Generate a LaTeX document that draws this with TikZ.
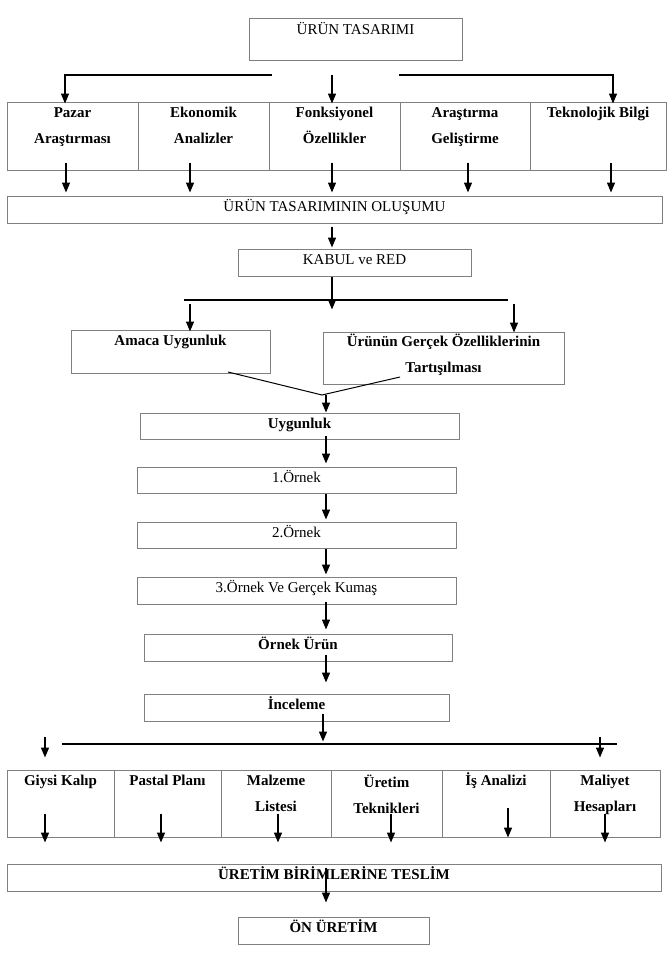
\documentclass[tikz,border=0pt]{standalone}
\usepackage{fontspec}
\setmainfont{Liberation Serif}
\usetikzlibrary{arrows.meta,fit}

\tikzset{
  box/.style={draw=black!50, line width=1pt, inner sep=0pt},
  lbl/.style={anchor=north, inner sep=0pt, align=center, yshift=2.5pt,
    font=\fontsize{15}{26}\selectfont, execute at begin node=\strut},
  lblb/.style={lbl, font=\fontsize{15}{26}\selectfont\bfseries},
  lbltwo/.style={lblb, yshift=-8pt},
  arr/.style={-{Triangle[length=10pt,width=8pt]}, line width=1.4pt},
  rule/.style={line width=1.4pt},
}

\begin{document}
\begin{tikzpicture}[x=1pt,y=-1pt]
		\useasboundingbox (0,0) rectangle (667,974);
		
		% boxes
		\node[box, fit={(249,19) (462,61)}] (urun) {};
		\node[box, fit={(7,102) (138,170)}] (pazar) {};
		\node[box, fit={(138,102) (269,170)}] (ekon) {};
		\node[box, fit={(269,102) (400,170)}] (fonk) {};
		\node[box, fit={(400,102) (530,170)}] (arge) {};
		\node[box, fit={(530,102) (666,170)}] (tekno) {};
		\node[box, fit={(7,196) (662,223)}] (olusum) {};
		\node[box, fit={(238,249) (471,276)}] (kabul) {};
		\node[box, fit={(71,330) (270,373)}] (amaca) {};
		\node[box, fit={(323,332) (564,384)}] (gercek) {};
		\node[box, fit={(140,413) (459,439)}] (uygun) {};
		\node[box, fit={(137,467) (456,493)}] (ornekA) {};
		\node[box, fit={(137,522) (456,548)}] (ornekB) {};
		\node[box, fit={(137,577) (456,604)}] (ornekC) {};
		\node[box, fit={(144,634) (452,661)}] (ornekU) {};
		\node[box, fit={(144,694) (449,721)}] (incele) {};
		\node[box, fit={(7,770) (114,837)}] (giysi) {};
		\node[box, fit={(114,770) (221,837)}] (pastal) {};
		\node[box, fit={(221,770) (331,837)}] (malz) {};
		\node[box, fit={(331,770) (442,837)}] (teknik) {};
		\node[box, fit={(442,770) (550,837)}] (isan) {};
		\node[box, fit={(550,770) (660,837)}] (maliyet) {};
		\node[box, fit={(7,864) (661,891)}] (teslim) {};
		\node[box, fit={(238,917) (429,944)}] (onuretim) {};
		
		% texts
		\node[lbl] at (urun.north) {ÜRÜN TASARIMI};
		\node[lbltwo] at (pazar.north) {Pazar\\Araştırması};
		\node[lbltwo] at (ekon.north) {Ekonomik\\Analizler};
		\node[lbltwo] at (fonk.north) {Fonksiyonel\\Özellikler};
		\node[lbltwo] at (arge.north) {Araştırma\\Geliştirme};
		\node[lblb] at (tekno.north) {Teknolojik Bilgi};
		\node[lbl] at (olusum.north) {ÜRÜN TASARIMININ OLUŞUMU};
		\node[lbl] at (kabul.north) {KABUL ve RED};
		\node[lblb] at (amaca.north) {Amaca Uygunluk};
		\node[lbltwo, yshift=3pt] at (gercek.north) {Ürünün Gerçek Özelliklerinin\\Tartışılması};
		\node[lblb] at (uygun.north) {Uygunluk};
		\node[lbl] at (ornekA.north) {1.Örnek};
		\node[lbl] at (ornekB.north) {2.Örnek};
		\node[lbl] at (ornekC.north) {3.Örnek Ve Gerçek Kumaş};
		\node[lblb] at (ornekU.north) {Örnek Ürün};
		\node[lblb] at (incele.north) {İnceleme};
		\node[lblb] at (giysi.north) {Giysi Kalıp};
		\node[lblb] at (pastal.north) {Pastal Planı};
		\node[lbltwo] at (malz.north) {Malzeme\\Listesi};
		\node[lbltwo] at (teknik.north) {Üretim\\Teknikleri};
		\node[lblb] at (isan.north) {İş Analizi};
		\node[lbltwo] at (maliyet.north) {Maliyet\\Hesapları};
		\node[lblb] at (teslim.north) {ÜRETİM BİRİMLERİNE TESLİM};
		\node[lblb] at (onuretim.north) {ÖN ÜRETİM};
		
		% top branch
		\coordinate (brL) at (272,75);
		\coordinate (brM) at (332,75);
		\coordinate (brR) at (399,75);
		\draw[arr] (brL) -| (pazar.north -| 65,0) -- ++(0,2);
		\draw[arr, shorten >=-2pt] (brM) -- (fonk.north -| brM);
		\draw[arr] (brR) -| (tekno.north -| 613,0) -- ++(0,2);
		
		\draw[arr] (pazar.south -| 66,0) ++(0,-8) -- ++(0,30);
		\draw[arr] (ekon.south -| 190,0) ++(0,-8) -- ++(0,30);
		\draw[arr] (fonk.south -| 332,0) ++(0,-8) -- ++(0,30);
		\draw[arr] (arge.south -| 468,0) ++(0,-8) -- ++(0,30);
		\draw[arr] (tekno.south -| 611,0) ++(0,-8) -- ++(0,30);
		
		\draw[arr, shorten <=3pt, shorten >=1pt] (olusum.south -| 332,0) -- (kabul.north -| 332,0);
		
		% second split
		\draw[rule] (184,300) -- (508,300);
		\draw[arr] (kabul.south -| 332,0) -- ++(0,33);
		\draw[arr] (amaca.north -| 190,0) ++(0,-26) -- ++(0,28);
		\draw[arr] (gercek.north -| 514,0) ++(0,-28) -- ++(0,29);
		
		% merge
		\coordinate (birles) at (322,395);
		\draw[line width=1pt] (228,372) -- (birles) -- (400,377);
		\draw[arr] (birles -| 326,0) -- (uygun.north -| 326,0);
		
		% chain
		\draw[arr, shorten <=-4pt, shorten >=3pt] (uygun.south -| 326,0) -- (ornekA.north -| 326,0);
		\draw[arr, shorten >=2pt] (ornekA.south -| 326,0) -- (ornekB.north -| 326,0);
		\draw[arr, shorten >=2pt] (ornekB.south -| 326,0) -- (ornekC.north -| 326,0);
		\draw[arr, shorten <=-3pt, shorten >=4pt] (ornekC.south -| 326,0) -- (ornekU.north -| 326,0);
		\draw[arr, shorten <=-7pt, shorten >=11pt] (ornekU.south -| 326,0) -- (incele.north -| 326,0);
		\draw[arr] (incele.south -| 323,0) ++(0,-8) -- ++(0,28);
		
		% lower split
		\draw[rule] (62,744) -- (617,744);
		\draw[arr] (giysi.north -| 45,0) ++(0,-33) -- ++(0,21);
		\draw[arr] (maliyet.north -| 600,0) ++(0,-33) -- ++(0,21);
		
		\draw[arr] (giysi.south -| 45,0) ++(0,-24) -- ++(0,29);
		\draw[arr] (pastal.south -| 161,0) ++(0,-24) -- ++(0,29);
		\draw[arr] (malz.south -| 278,0) ++(0,-24) -- ++(0,29);
		\draw[arr] (teknik.south -| 391,0) ++(0,-24) -- ++(0,29);
		\draw[arr] (isan.south -| 508,0) ++(0,-30) -- ++(0,30);
		\draw[arr] (maliyet.south -| 605,0) ++(0,-24) -- ++(0,29);
		
		\draw[arr] (teslim.north -| 326,0) ++(0,4) -- ++(0,35);
\end{tikzpicture}
\end{document}
